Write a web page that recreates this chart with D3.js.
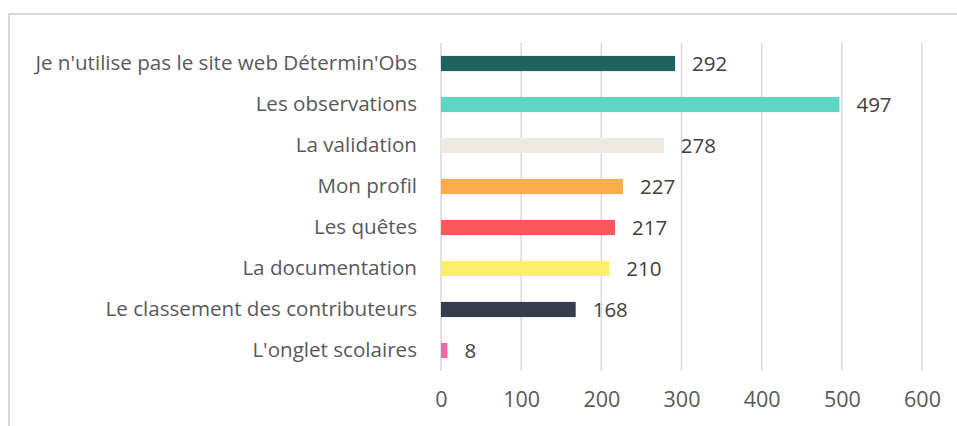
<!DOCTYPE html>
<html>
<head>
<meta charset="utf-8">
<script src="https://cdn.jsdelivr.net/npm/d3@7"></script>
<style>
  body { margin: 0; background: #fff; }
  svg text { font-family: "Open Sans", "Noto Sans", sans-serif; }
</style>
</head>
<body>
<div id="chart"></div>
<script>
const categories = [
  "Je n'utilise pas le site web Détermin'Obs",
  "Les observations",
  "La validation",
  "Mon profil",
  "Les quêtes",
  "La documentation",
  "Le classement des contributeurs",
  "L'onglet scolaires"
];
const values = [292, 497, 278, 227, 217, 210, 168, 8];
const colors = ["#1d625c", "#5ed6c6", "#eeeae2", "#ffad4c", "#fd585d", "#fdee6c", "#363d4d", "#ef6aa5"];
const ticks = [0, 100, 200, 300, 400, 500, 600];

const width = 957;
const height = 426;

const svg = d3
  .select("#chart")
  .append("svg")
  .attr("width", width)
  .attr("height", height);

// outer frame (only left + top visible)
svg
  .append("path")
  .attr("d", `M9,${height} V14 H${width}`)
  .attr("fill", "none")
  .attr("stroke", "#d9d9d9")
  .attr("stroke-width", 2);

const x = d3.scaleLinear().domain([0, 600]).range([441, 922]);

const y = d3
  .scaleBand()
  .domain(categories)
  .range([43, 371])
  .paddingInner(0.63)
  .paddingOuter(0.315);

// grid lines
svg
  .append("g")
  .selectAll("line")
  .data(ticks)
  .enter()
  .append("line")
  .attr("x1", (d) => x(d))
  .attr("x2", (d) => x(d))
  .attr("y1", 43)
  .attr("y2", 371)
  .attr("stroke", "#d9d9d9")
  .attr("stroke-width", 1.5);

const xAxis = d3.axisBottom(x).tickValues(ticks).tickSize(0).tickPadding(0);

svg
  .append("g")
  .attr("transform", `translate(0, 392)`)
  .call(xAxis)
  .call((g) => g.select(".domain").remove())
  .selectAll("text")
  .attr("dy", "0.71em")
  .style("font-size", "21.5px")
  .attr("fill", "#595959");

const yAxis = d3.axisLeft(y).tickSize(0).tickPadding(0);

svg
  .append("g")
  .attr("transform", `translate(417, 0)`)
  .call(yAxis)
  .call((g) => g.select(".domain").remove())
  .selectAll("text")
  .style("font-size", "20.6px")
  .attr("fill", "#595959");

svg
  .selectAll(".bar")
  .data(values)
  .enter()
  .append("rect")
  .attr("class", "bar")
  .attr("x", x(0))
  .attr("y", (d, i) => y(categories[i]))
  .attr("width", (d) => x(d) - x(0))
  .attr("height", y.bandwidth())
  .attr("fill", (d, i) => colors[i]);

svg
  .selectAll(".val")
  .data(values)
  .enter()
  .append("text")
  .attr("class", "val")
  .attr("x", (d) => x(d) + 17)
  .attr("y", (d, i) => y(categories[i]) + y.bandwidth() / 2)
  .attr("dy", "0.35em")
  .style("font-size", "20.5px")
  .attr("fill", "#404040")
  .text((d) => d);
</script>
</body>
</html>
